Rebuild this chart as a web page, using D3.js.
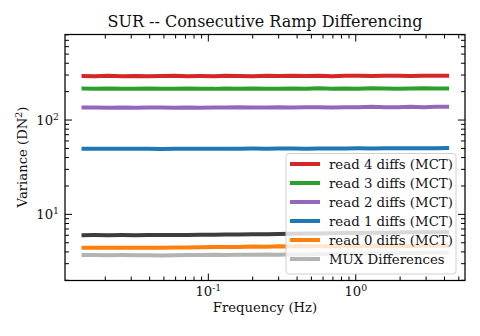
<!DOCTYPE html>
<html><head><meta charset="utf-8">
<script src="https://cdn.jsdelivr.net/npm/d3@7"></script>
<style>body{margin:0;background:#fff}svg{display:block}text{font-family:"DejaVu Serif",serif;fill:#111}</style>
</head><body><svg id="c" width="480" height="336"></svg>
<script>
const title = "SUR -- Consecutive Ramp Differencing";
const xLabel = "Frequency (Hz)";
const freqs = [0.0138,0.017,0.021,0.026,0.032,0.039,0.048,0.059,0.072,0.088,0.11,0.13,0.16,0.2,0.25,0.3,0.37,0.46,0.56,0.69,0.85,1.04,1.28,1.57,1.93,2.37,2.9,3.5,4.3];
const read4 = [293,292,294,292,293,291,293,294,292,293,292,294,293,292,294,293,295,293,294,292,295,294,293,295,294,293,295,294,294];
const read3 = [216,215,216,214,215,216,214,215,216,215,214,216,215,216,215,214,216,215,217,215,216,215,217,216,215,216,217,216,216];
const read2 = [136,136,135,136,135,136,136,135,136,135,136,136,137,136,136,137,136,137,137,136,137,137,138,137,137,138,137,138,138];
const read1 = [49.6,49.5,49.7,49.5,49.6,49.5,49.4,49.6,49.5,49.7,49.6,49.5,49.7,49.8,49.6,49.8,49.9,49.7,49.9,50.0,49.9,50.1,50.0,50.2,50.1,50.2,50.3,50.2,50.4];
const read0 = [4.42,4.42,4.43,4.42,4.43,4.43,4.42,4.45,4.46,4.48,4.5,4.52,4.5,4.55,4.53,4.58,4.56,4.6,4.58,4.6,4.62,4.6,4.63,4.62,4.65,4.63,4.66,4.65,4.66];
const extra = [6.02,6.03,6.02,6.03,6.02,6.04,6.03,6.05,6.06,6.07,6.08,6.1,6.12,6.15,6.17,6.2,6.22,6.26,6.28,6.3,6.33,6.36,6.38,6.4,6.42,6.45,6.46,6.48,6.5];
const mux = [3.70,3.70,3.69,3.70,3.69,3.68,3.67,3.69,3.70,3.71,3.72,3.7,3.73,3.72,3.75,3.74,3.77,3.76,3.79,3.8,3.82,3.83,3.85,3.86,3.88,3.9,3.91,3.92,3.93];
const seriesNames = ["read 4 diffs (MCT)","read 3 diffs (MCT)","read 2 diffs (MCT)","read 1 diffs (MCT)","read 0 diffs (MCT)","MUX Differences"];
const seriesColors = ["#d62728","#2ca02c","#9467bd","#1f77b4","#ff7f0e","#b3b3b3"];
const extraColor = "#3d3d3d";
const xMajor = [0.1, 1];
const xMajorExp = ["-1","0"];
const yMajor = [10, 100];
const yMajorExp = ["1","2"];

const svg = d3.select("#c");
const L=65, R=465, T=34.5, B=280.5;
const x = d3.scaleLog().domain([0.01066,5.51]).range([L,R]);
const y = d3.scaleLog().domain([1.99,807]).range([B,T]);

svg.append("clipPath").attr("id","cp").append("rect").attr("x",L).attr("y",T).attr("width",R-L).attr("height",B-T);
const line = d3.line().x((d,i)=>x(freqs[i])).y(d=>y(d));
const g = svg.append("g").attr("clip-path","url(#cp)");
const all = [
  {v:mux,c:seriesColors[5]},
  {v:read0,c:seriesColors[4]},
  {v:extra,c:extraColor},
  {v:read1,c:seriesColors[3]},
  {v:read2,c:seriesColors[2]},
  {v:read3,c:seriesColors[1]},
  {v:read4,c:seriesColors[0]}
];
all.forEach(s=>{
  g.append("path").attr("d",line(s.v)).attr("fill","none").attr("stroke",s.c).attr("stroke-width",4).attr("stroke-linejoin","round");
});

const xMinor=[], yMinor=[];
[0.01,0.1,1].forEach(b=>{for(let k=2;k<=9;k++){const v=b*k; if(v>x.domain()[0]&&v<x.domain()[1]) xMinor.push(v);}});
[1,10,100].forEach(b=>{for(let k=2;k<=9;k++){const v=b*k; if(v>y.domain()[0]&&v<y.domain()[1]) yMinor.push(v);}});

const ax = svg.append("g").attr("stroke","#000").attr("stroke-width",1);
xMajor.forEach(v=>{const px=x(v);ax.append("line").attr("x1",px).attr("x2",px).attr("y1",B).attr("y2",B-7);ax.append("line").attr("x1",px).attr("x2",px).attr("y1",T).attr("y2",T+7);});
xMinor.forEach(v=>{const px=x(v);ax.append("line").attr("x1",px).attr("x2",px).attr("y1",B).attr("y2",B-4);ax.append("line").attr("x1",px).attr("x2",px).attr("y1",T).attr("y2",T+4);});
yMajor.forEach(v=>{const py=y(v);ax.append("line").attr("y1",py).attr("y2",py).attr("x1",L).attr("x2",L+7);ax.append("line").attr("y1",py).attr("y2",py).attr("x1",R).attr("x2",R-7);});
yMinor.forEach(v=>{const py=y(v);ax.append("line").attr("y1",py).attr("y2",py).attr("x1",L).attr("x2",L+4);ax.append("line").attr("y1",py).attr("y2",py).attr("x1",R).attr("x2",R-4);});

const lg = svg.append("g");
lg.append("rect").attr("x",286).attr("y",153.5).attr("width",170).attr("height",120.5).attr("rx",3)
  .attr("fill","#fff").attr("fill-opacity",0.8).attr("stroke","#d0d0d0").attr("stroke-width",1);
seriesNames.forEach((n,i)=>{
  const yy = 164 + i*19;
  lg.append("line").attr("x1",290).attr("x2",320).attr("y1",yy).attr("y2",yy).attr("stroke",seriesColors[i]).attr("stroke-width",4);
  lg.append("text").attr("x",329).attr("y",yy+4.8).attr("font-size",13.3).text(n);
});

svg.append("rect").attr("x",L).attr("y",T).attr("width",R-L).attr("height",B-T).attr("fill","none").attr("stroke","#000").attr("stroke-width",1.25);

xMajor.forEach((v,i)=>{
  const t = svg.append("text").attr("x",x(v)).attr("y",296).attr("text-anchor","middle").attr("font-size",13.2);
  t.append("tspan").text("10");
  t.append("tspan").attr("dy",-5.5).attr("font-size",9.3).text(xMajorExp[i]);
});
yMajor.forEach((v,i)=>{
  const t = svg.append("text").attr("x",59).attr("y",y(v)+5).attr("text-anchor","end").attr("font-size",13.2);
  t.append("tspan").text("10");
  t.append("tspan").attr("dy",-5.5).attr("font-size",9.3).text(yMajorExp[i]);
});

svg.append("text").attr("x",265).attr("y",27).attr("text-anchor","middle").attr("font-size",16).text(title);
svg.append("text").attr("x",265).attr("y",312).attr("text-anchor","middle").attr("font-size",13.2).text(xLabel);
const yl = svg.append("text").attr("transform","translate(27,157) rotate(-90)").attr("text-anchor","middle").attr("font-size",13.2);
yl.append("tspan").text("Variance (DN");
yl.append("tspan").attr("dy",-5.5).attr("font-size",9.3).text("2");
yl.append("tspan").attr("dy",5.5).text(")");
</script></body></html>
